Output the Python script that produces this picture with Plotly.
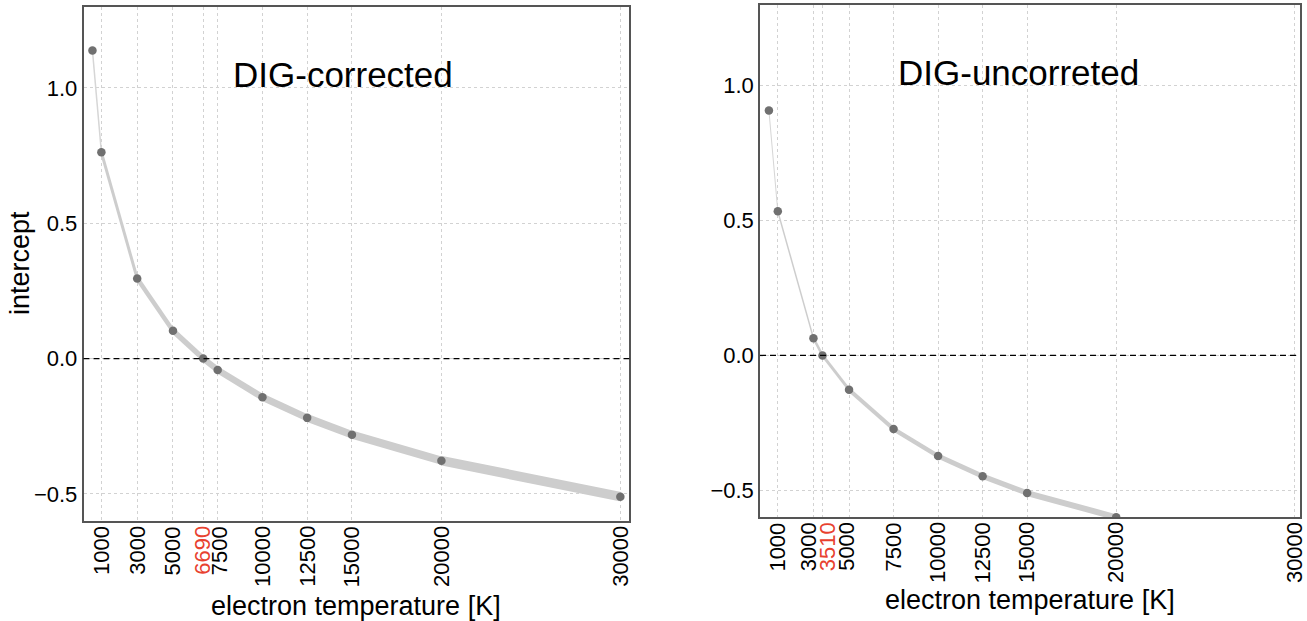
import plotly.graph_objects as go

# ---------------- data ----------------
T_left = [500, 1000, 3000, 5000, 6690, 7500, 10000, 12500, 15000, 20000, 30000]
I_left = [1.138, 0.762, 0.296, 0.103, 0.0, -0.042, -0.143, -0.219, -0.281, -0.377, -0.51]

T_right = [500, 1000, 3000, 3510, 5000, 7500, 10000, 12500, 15000, 20000]
I_right = [0.908, 0.534, 0.064, 0.0, -0.127, -0.273, -0.373, -0.448, -0.51, -0.60]

ticks_left = [1000, 3000, 5000, 6690, 7500, 10000, 12500, 15000, 20000, 30000]
ticks_right = [1000, 3000, 3510, 5000, 7500, 10000, 12500, 15000, 20000, 30000]
highlight_left = 6690
highlight_right = 3510

title_left = "DIG-corrected"
title_right = "DIG-uncorreted"
xlabel = "electron temperature [K]"
ylabel = "intercept"

# ---------------- styles ----------------
width_left = [1.5, 3, 4.5, 5.5, 6, 6.5, 7, 7.5, 8, 9.5]
width_right = [1, 1.5, 2.5, 3, 4, 4.5, 5, 5.5, 6]
# pixel nudges of the tick labels (to keep crowded labels apart)
shift_left = [0, 0, 0, -1, 2, 0, 0, 0, 0, 0]
shift_right = [0, -5, 5, -2, 0, 0, 0, 0, 0, 0]
band_color = "#cdcdcd"
marker_color = "#707070"
red = "#e8412f"
FONT = "Liberation Sans, Arial, Helvetica, sans-serif"

fig = go.Figure()


def add_panel(T, I, widths, xa, ya):
    for i in range(len(T) - 1):
        fig.add_trace(go.Scatter(
            x=[T[i], T[i + 1]], y=[I[i], I[i + 1]], mode="lines",
            line=dict(color=band_color if i > 0 else "#d6d6d6", width=widths[i]),
            xaxis=xa, yaxis=ya, showlegend=False, hoverinfo="skip"))
    fig.add_trace(go.Scatter(
        x=T, y=I, mode="markers",
        marker=dict(color=marker_color, size=8.5),
        xaxis=xa, yaxis=ya, showlegend=False))


add_panel(T_left, I_left, width_left, "x", "y")
add_panel(T_right, I_right, width_right, "x2", "y2")

axis_common = dict(
    showgrid=True, gridcolor="#d2d2d2", griddash="dot", gridwidth=1,
    showline=True, mirror=True, linecolor="#555555", linewidth=1.5,
    ticks="", zeroline=False,
    tickfont=dict(family=FONT, size=22, color="black"),
)

yl_dom = [1 - 521 / 621, 1 - 6.7 / 621]
yr_dom = [1 - 517.3 / 621, 1 - 4.7 / 621]

fig.update_layout(
    width=1307, height=621,
    margin=dict(l=0, r=0, t=0, b=0),
    paper_bgcolor="white", plot_bgcolor="white",
    showlegend=False,
    xaxis=dict(domain=[83.5 / 1307, 629.3 / 1307], range=[0, 30500],
               tickmode="array", tickvals=ticks_left, showticklabels=False,
               anchor="y", **axis_common),
    yaxis=dict(domain=yl_dom, range=[-0.6, 1.3],
               tickmode="array", tickvals=[-0.5, 0.0, 0.5, 1.0], tickformat=".1f",
               anchor="x", **axis_common),
    xaxis2=dict(domain=[760 / 1307, 1300 / 1307], range=[0, 30320],
                tickmode="array", tickvals=ticks_right, showticklabels=False,
                anchor="y2", **axis_common),
    yaxis2=dict(domain=yr_dom, range=[-0.6, 1.3],
                tickmode="array", tickvals=[-0.5, 0.0, 0.5, 1.0], tickformat=".1f",
                anchor="x2", **axis_common),
)

for xr, yr in [("x", "y"), ("x2", "y2")]:
    fig.add_shape(type="line", xref=f"{xr} domain", yref=yr, x0=0, x1=1, y0=0, y1=0,
                  line=dict(color="black", width=1.3, dash="6px,4px"), layer="above")

# rotated x tick labels
for ticks, shifts, hl, xr, ybot in [(ticks_left, shift_left, highlight_left, "x", yl_dom[0]),
                                    (ticks_right, shift_right, highlight_right, "x2", yr_dom[0])]:
    for t, s in zip(ticks, shifts):
        fig.add_annotation(text=str(t), x=t, xref=xr, y=ybot, yref="paper",
                           xanchor="center", yanchor="top", yshift=-4, xshift=s,
                           textangle=-90, showarrow=False, borderpad=0,
                           font=dict(family=FONT, size=22, color=red if t == hl else "black"))

ann = [
    dict(text=title_left, x=343 / 1307, y=1 - 75 / 621, size=35, angle=0),
    dict(text=title_right, x=1018 / 1307, y=1 - 73 / 621, size=35, angle=0),
    dict(text=xlabel, x=356 / 1307, y=1 - 606 / 621, size=27, angle=0),
    dict(text=xlabel, x=1030 / 1307, y=1 - 600 / 621, size=27, angle=0),
    dict(text=ylabel, x=20 / 1307, y=1 - 263 / 621, size=27, angle=-90),
]
for a in ann:
    fig.add_annotation(text=a["text"], x=a["x"], y=a["y"], xref="paper", yref="paper",
                       xanchor="center", yanchor="middle", showarrow=False,
                       textangle=a["angle"],
                       font=dict(family=FONT, size=a["size"], color="black"))

fig.write_html("out.html")
